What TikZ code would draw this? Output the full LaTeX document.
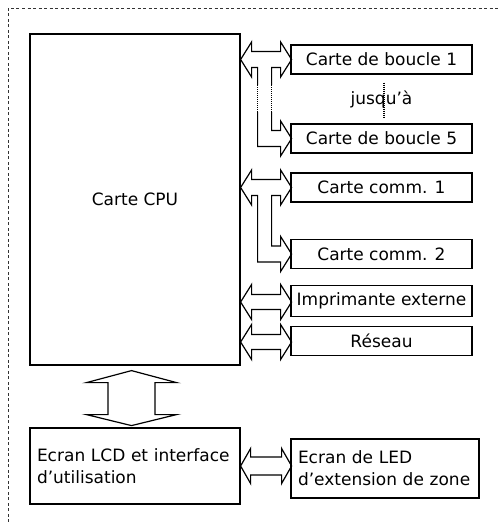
\documentclass[tikz,border=0pt]{standalone}
\usepackage{fontspec}
\setmainfont{DejaVu Sans}
\usetikzlibrary{positioning, calc}
\tikzset{
  cardbox/.style={
    rectangle, draw=black, line width=1.2pt, minimum width=181pt, minimum height=29pt,
    inner sep=0pt, align=center, font=\fontsize{17}{22}\selectfont
  },
  cpubox/.style={cardbox, minimum width=210pt, minimum height=331pt},
  panelbox/.style={cardbox, align=left, inner xsep=7pt},
  bus/.style={draw=black, line width=1.2pt, line join=miter},
  busgap/.style={draw=black, line width=1.2pt, dash pattern=on 1pt off 1pt},
  frame/.style={draw=black!80, line width=0.8pt, dash pattern=on 3pt off 2.5pt}
}

\begin{document}
\begin{tikzpicture}[x=1pt, y=-1pt]
    \useasboundingbox (0,0) rectangle (500,522);
    \draw[frame] (8,522) -- (8,8) -- (500,8);
    
    % Boards
    \node[cpubox] (cpu) at (135,199.5) {Carte CPU};
    \node[cardbox] (loop1) at (381.5,59.5) {Carte de boucle 1};
    \node[cardbox] (loop5) at (381.5,138.5) {Carte de boucle 5};
    \node[font=\fontsize{17}{22}\selectfont] (upto) at (381.5,99) {jusqu'à};
    \node[cardbox] (comm1) at (381.5,187.5) {Carte comm. 1};
    \node[cardbox] (comm2) at (381.5,254) {Carte comm. 2};
    \node[cardbox, minimum height=31pt] (printer) at (381.5,301) {Imprimante externe};
    \node[cardbox] (network) at (381.5,341) {Réseau};
    \node[panelbox, text width=196pt, minimum height=76pt] (lcd) at (135,466)
      {Ecran LCD et interface\\d’utilisation};
    \node[panelbox, text width=174pt, minimum height=59pt] (led) at (385,468.5)
      {Ecran de LED\\d’extension de zone};
    
    \draw[busgap] ([xshift=2.5pt, yshift=-8pt]loop1.south) -- ([xshift=2.5pt, yshift=6pt]loop5.north);
    
    % Loop boards bus
    \begin{scope}[shift={(cpu.east |- loop1.west)}]
      \draw[bus] (17,25.5) -- (17,8) -- (11,8) -- (11,17.5) -- (0,0) -- (11,-17.5) -- (11,-8)
        -- (40,-8) -- (40,-17.5) -- (51,0) -- (40,17.5) -- (40,8) -- (31,8) -- (31,25.5);
      \draw[bus] (31,52.5) -- (31,71) -- (40,71) -- (40,61.5) -- (51,79) -- (40,96.5)
        -- (40,87) -- (17,87) -- (17,52.5);
      \draw[busgap] (17,25.5) -- (17,52.5) (31,25.5) -- (31,52.5);
    \end{scope}
    
    % Comm boards bus
    \begin{scope}[shift={(cpu.east |- comm1.west)}]
      \draw[bus] (0,0) -- (11,-17.5) -- (11,-8) -- (40,-8) -- (40,-17.5) -- (51,0) -- (40,17.5)
        -- (40,8) -- (31,8) -- (31,58.5) -- (40,58.5) -- (40,49) -- (51,66.5) -- (40,84)
        -- (40,74.5) -- (17,74.5) -- (17,8) -- (11,8) -- (11,17.5) -- cycle;
    \end{scope}
    
    % Printer and network
    \foreach \card/\dy in {printer/1, network/1}{
      \begin{scope}[shift={([yshift=-\dy pt]cpu.east |- \card.west)}]
        \draw[bus] (0,0) -- (11,-17.5) -- (11,-7.5) -- (40,-7.5) -- (40,-17.5) -- (51,0)
          -- (40,17.5) -- (40,7.5) -- (11,7.5) -- (11,17.5) -- cycle;
      \end{scope}
    }
    
    % CPU to LCD
    \begin{scope}[shift={(cpu.south)}]
      \draw[bus] (-3.5,5) -- (41.5,17) -- (20,17) -- (20,49) -- (41.5,49) -- (-3.5,60)
        -- (-48.5,49) -- (-27,49) -- (-27,17) -- (-48.5,17) -- cycle;
    \end{scope}
    
    % LCD to LED
    \begin{scope}[shift={(lcd.east)}]
      \draw[bus] (0,0) -- (10,-17.5) -- (10,-9) -- (41,-9) -- (41,-17.5) -- (51,0)
        -- (41,17.5) -- (41,9) -- (10,9) -- (10,17.5) -- cycle;
    \end{scope}
    
\end{tikzpicture}
\end{document}
